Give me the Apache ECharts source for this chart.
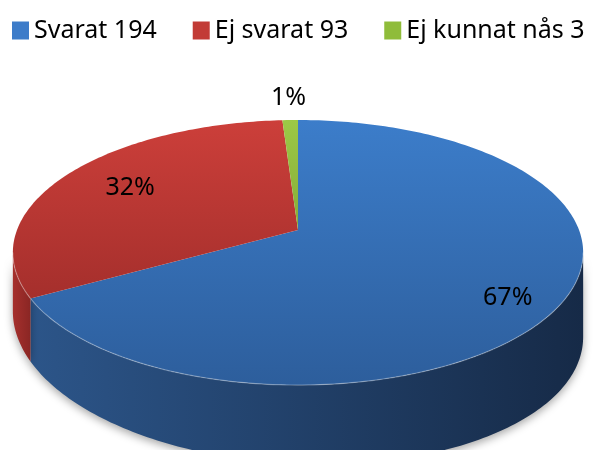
<!DOCTYPE html>
<html>
<head>
<meta charset="utf-8">
<script src="https://cdn.jsdelivr.net/npm/echarts@6/dist/echarts.min.js"></script>
<style>
  html, body { margin: 0; padding: 0; background: #fff; }
  #chart { width: 593px; height: 450px; }
</style>
</head>
<body>
<div id="chart"></div>
<script>
// data
const categories = ['Svarat 194', 'Ej svarat 93', 'Ej kunnat nås 3'];
const counts = [194, 93, 3];
const labelRadius = [0.84, 0.72, 1.25];
const labelTurn = [5, 0, 0];

const legendColors = ['#3d7cc9', '#c23b36', '#8fbc3a'];
const topColors = [
  ['#3c7dca', '#2d5e9c'],
  ['#cc3f3a', '#a52f2c'],
  ['#9cc846', '#86ad38']
];
const wallColors = [
  ['#2c5589', '#162a47'],
  ['#a6302d', '#8a2624'],
  ['#6f8f2a', '#5a7422']
];

const total = counts.reduce((s, v) => s + v, 0);
const startAngles = [];
let acc = 0;
counts.forEach(v => { startAngles.push(acc / total * 360); acc += v; });

// perspective-ish projection of the pie disc
const CX = 298, CY0 = 230, A = -89.6, C = 0.17, KX = 281;
const VIS0 = 99.8, VIS1 = 260.2;
const rad = d => d * Math.PI / 180;

function proj(deg, r, down) {
  const X = r * Math.sin(rad(deg));
  const Z = r * Math.cos(rad(deg));
  const w = 1 + C * Z;
  let y = (CY0 + A * Z) / w;
  if (down) y += 70 + 13 * X - 9 * Math.min(Z, 0);
  return [CX + KX * X / w, y];
}

function arc(a0, a1, down) {
  const pts = [];
  const n = Math.max(2, Math.ceil(Math.abs(a1 - a0)));
  for (let k = 0; k <= n; k++) pts.push(proj(a0 + (a1 - a0) * k / n, 1, down));
  return pts;
}

function makeRender(i) {
  return function (params, api) {
    const v = api.value(0);
    const a0 = startAngles[i];
    const a1 = a0 + v / total * 360;
    const children = [];

    const w0 = Math.max(a0, VIS0), w1 = Math.min(a1, VIS1);
    if (w1 > w0) {
      const pts = arc(w0, w1, false).concat(arc(w1, w0, true));
      children.push({
        type: 'polygon',
        shape: { points: pts },
        style: {
          fill: new echarts.graphic.LinearGradient(0, 0, 1, 0, [
            { offset: 0, color: wallColors[i][0] },
            { offset: 1, color: wallColors[i][1] }
          ]),
          shadowBlur: 8, shadowColor: 'rgba(0,0,0,0.35)', shadowOffsetY: 3
        }
      });
    }

    const top = [proj(0, 0, false)].concat(arc(a0, a1, false));
    children.push({
      type: 'polygon',
      shape: { points: top },
      style: {
        fill: new echarts.graphic.LinearGradient(0, 0, 0, 1, [
          { offset: 0, color: topColors[i][0] },
          { offset: 1, color: topColors[i][1] }
        ])
      }
    });

    if (w1 > w0) {
      children.push({
        type: 'polyline',
        shape: { points: arc(w0, w1, false) },
        style: { stroke: 'rgba(255,255,255,0.3)', lineWidth: 1.2, fill: null }
      });
    }

    const mid = (a0 + a1) / 2 + labelTurn[i];
    const p = proj(mid, labelRadius[i], false);
    children.push({
      type: 'text',
      x: p[0], y: p[1],
      style: {
        text: Math.round(v / total * 100) + '%',
        fontSize: 25, fontFamily: 'Noto Sans', fill: '#000',
        align: 'center', verticalAlign: 'middle'
      }
    });
    return { type: 'group', children: children };
  };
}

const chart = echarts.init(document.getElementById('chart'));
chart.setOption({
  animation: false,
  backgroundColor: '#fff',
  legend: {
    data: categories,
    left: 12, top: 18, padding: 0,
    icon: 'rect', itemWidth: 17, itemHeight: 18, itemGap: 36,
    textStyle: { fontSize: 25, fontFamily: 'Noto Sans', color: '#000' }
  },
  series: categories.map((name, i) => ({
    type: 'custom',
    name: name,
    coordinateSystem: 'none',
    itemStyle: { color: legendColors[i] },
    renderItem: makeRender(i),
    data: [[counts[i]]]
  }))
});
</script>
</body>
</html>
